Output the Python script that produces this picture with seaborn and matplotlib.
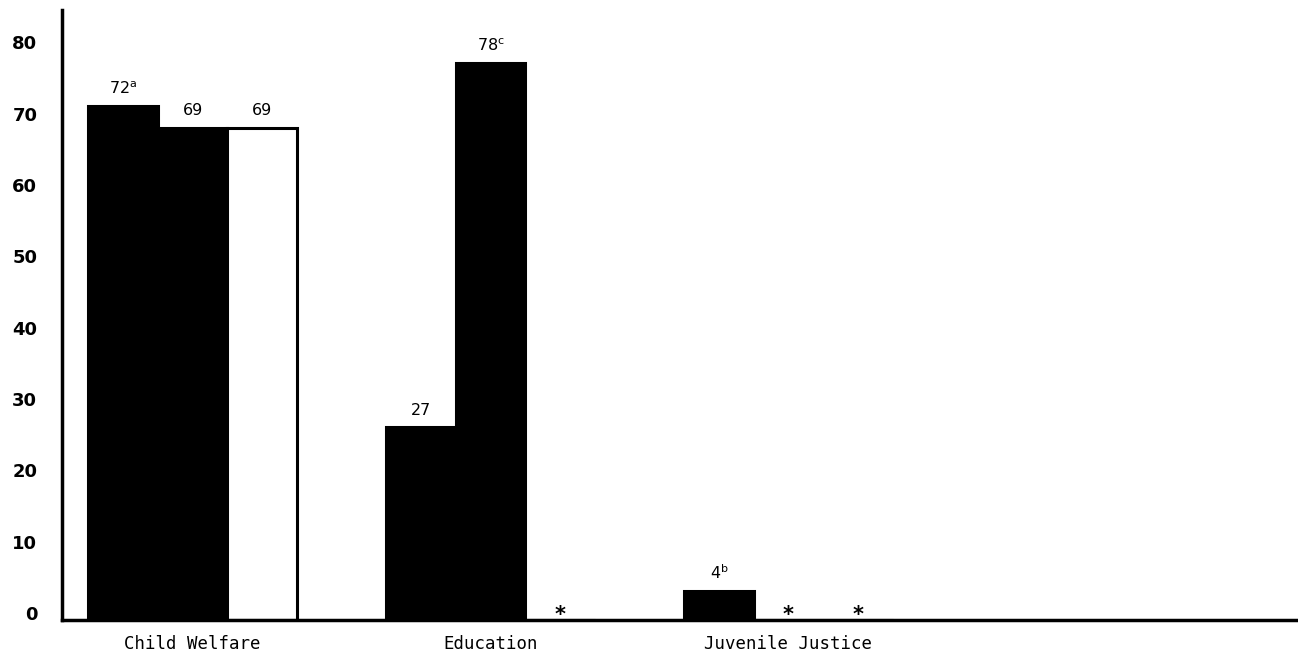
import pandas as pd
import matplotlib
matplotlib.use("Agg")
import matplotlib.pyplot as plt
import matplotlib.transforms as mtransforms
import seaborn as sns

# 数据
categories = ["Child Welfare", "Education", "Juvenile Justice"]
series = ["Series 1", "Series 2", "Series 3"]
series1 = [72, 27, 4]
series2 = [69, 78, 0]
series3 = [69, 0, 0]
labels1 = [r"72$^{\mathregular{a}}$", "27", r"4$^{\mathregular{b}}$"]
labels2 = ["69", r"78$^{\mathregular{c}}$", "*"]
labels3 = ["69", "*", "*"]
yticks = [0, 10, 20, 30, 40, 50, 60, 70, 80]

df = pd.DataFrame({
    "category": categories * 3,
    "series": [s for s in series for _ in categories],
    "value": series1 + series2 + series3,
})

sns.set_style("white")
plt.rcParams["font.family"] = ["DejaVu Sans"]
plt.rcParams["text.color"] = "black"
plt.rcParams["xtick.color"] = "black"
plt.rcParams["ytick.color"] = "black"

fig = plt.figure(figsize=(12.98, 6.63), dpi=100)
ax = fig.add_axes([0.048, 0.065, 0.952, 0.92])

sns.barplot(data=df, x="category", y="value", hue="series",
            palette=["black", "black", "white"], edgecolor="black",
            linewidth=2.2, width=0.7, legend=False, ax=ax)

# 柱顶标注，星号表示无数据
for cont, labs in zip(ax.containers, [labels1, labels2, labels3]):
    texts = ax.bar_label(cont, labels=labs, padding=7, fontsize=11.5, color="black")
    for t in texts:
        if t.get_text() == "*":
            t.set_fontsize(15)
            t.set_fontweight("bold")
            t.xyann = (0, -4)

ax.set_ylim(0, 85.5)
ax.set_xlim(-0.437, 3.71)
ax.set_yticks(yticks)
ax.set_yticklabels([str(t) for t in yticks], fontsize=13, fontweight="bold")
ax.tick_params(axis="y", length=0, pad=18)
ax.tick_params(axis="x", length=0, pad=11)
# 纵轴刻度文字略微上移
shift = mtransforms.ScaledTranslation(0, 5 / 72, fig.dpi_scale_trans)
for lab in ax.get_yticklabels():
    lab.set_transform(lab.get_transform() + shift)
for lab in ax.get_xticklabels():
    lab.set_fontfamily("DejaVu Sans Mono")
    lab.set_fontsize(12.5)
ax.set_xlabel("")
ax.set_ylabel("")

sns.despine(ax=ax)
for side in ["left", "bottom"]:
    ax.spines[side].set_linewidth(2.5)
    ax.spines[side].set_color("black")

fig.savefig("out.png", dpi=100)
plt.close(fig)
